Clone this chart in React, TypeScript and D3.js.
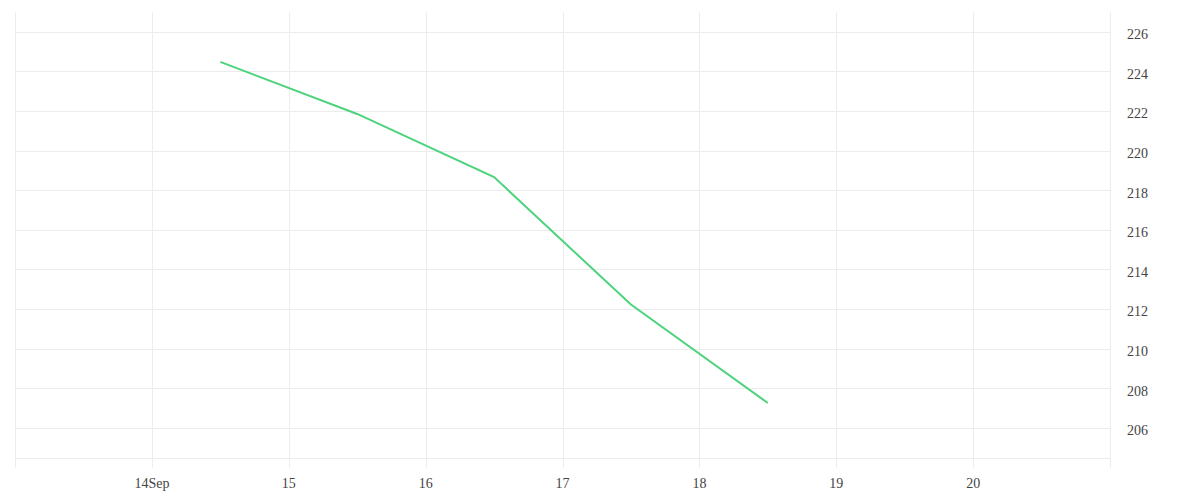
import React, { useRef, useEffect } from "react";
import * as d3 from "d3";

// data points sit at midday of each date
const dates = ["2023-09-14T12:00", "2023-09-15T12:00", "2023-09-16T12:00", "2023-09-17T12:00", "2023-09-18T12:00"];
const values = [224.48, 221.85, 218.66, 212.22, 207.25];
const yTicks = [206, 208, 210, 212, 214, 216, 218, 220, 222, 224, 226];
const xTickDays = ["2023-09-14", "2023-09-15", "2023-09-16", "2023-09-17", "2023-09-18", "2023-09-19", "2023-09-20"];

const App: React.FC = () => {
    const svgRef = useRef<SVGSVGElement | null>(null);

    useEffect(() => {
        const width = 1200;
        const height = 500;
        const left = 15;
        const right = 1110;
        const top = 12;
        const bottom = 458;

        const svg = d3.select(svgRef.current);
        svg.selectAll("*").remove();
        svg.attr("width", width).attr("height", height);

        const x = d3
            .scaleTime()
            .domain([new Date("2023-09-13T00:00"), new Date("2023-09-21T00:00")])
            .range([left, right]);
        const y = d3.scaleLinear().domain([204.47, 227.0]).range([bottom, top]);

        const grid = svg.append("g").attr("stroke", "#ececec").attr("stroke-width", 1);

        // horizontal grid
        grid.selectAll("line.h")
            .data(yTicks)
            .enter()
            .append("line")
            .attr("x1", left)
            .attr("x2", right)
            .attr("y1", (d) => Math.round(y(d)) + 0.5)
            .attr("y2", (d) => Math.round(y(d)) + 0.5);
        grid.append("line")
            .attr("x1", left)
            .attr("x2", right)
            .attr("y1", bottom + 0.5)
            .attr("y2", bottom + 0.5);

        // vertical grid, including plot edges
        const xTicks = xTickDays.map((d) => new Date(d + "T00:00"));
        const vLines = [x.range()[0], ...xTicks.map((d) => x(d)), x.range()[1]];
        grid.selectAll("line.v")
            .data(vLines)
            .enter()
            .append("line")
            .attr("x1", (d) => Math.round(d) + 0.5)
            .attr("x2", (d) => Math.round(d) + 0.5)
            .attr("y1", top)
            .attr("y2", bottom + 10);

        const fmt = d3.timeFormat("%-d");
        svg.append("g")
            .selectAll("text")
            .data(xTicks)
            .enter()
            .append("text")
            .attr("x", (d) => x(d))
            .attr("y", 488)
            .attr("text-anchor", "middle")
            .attr("font-family", "'Liberation Serif', serif")
            .attr("font-size", 14)
            .attr("fill", "#444")
            .text((d, i) => (i === 0 ? fmt(d) + d3.timeFormat("%b")(d) : fmt(d)));

        svg.append("g")
            .selectAll("text")
            .data(yTicks)
            .enter()
            .append("text")
            .attr("x", 1127)
            .attr("y", (d) => y(d) + 7.5)
            .attr("font-family", "'Liberation Serif', serif")
            .attr("font-size", 14)
            .attr("fill", "#444")
            .text((d) => d);

        const line = d3
            .line<number>()
            .x((_, i) => x(new Date(dates[i])))
            .y((d) => y(d));

        svg.append("path")
            .datum(values)
            .attr("fill", "none")
            .attr("stroke", "#4cd37c")
            .attr("stroke-width", 2)
            .attr("d", line);

        return () => {
            svg.selectAll("*").remove();
        };
    }, []);

    return <svg ref={svgRef} style={{ position: "absolute", left: 0, top: 0 }}></svg>;
};

export default App;
